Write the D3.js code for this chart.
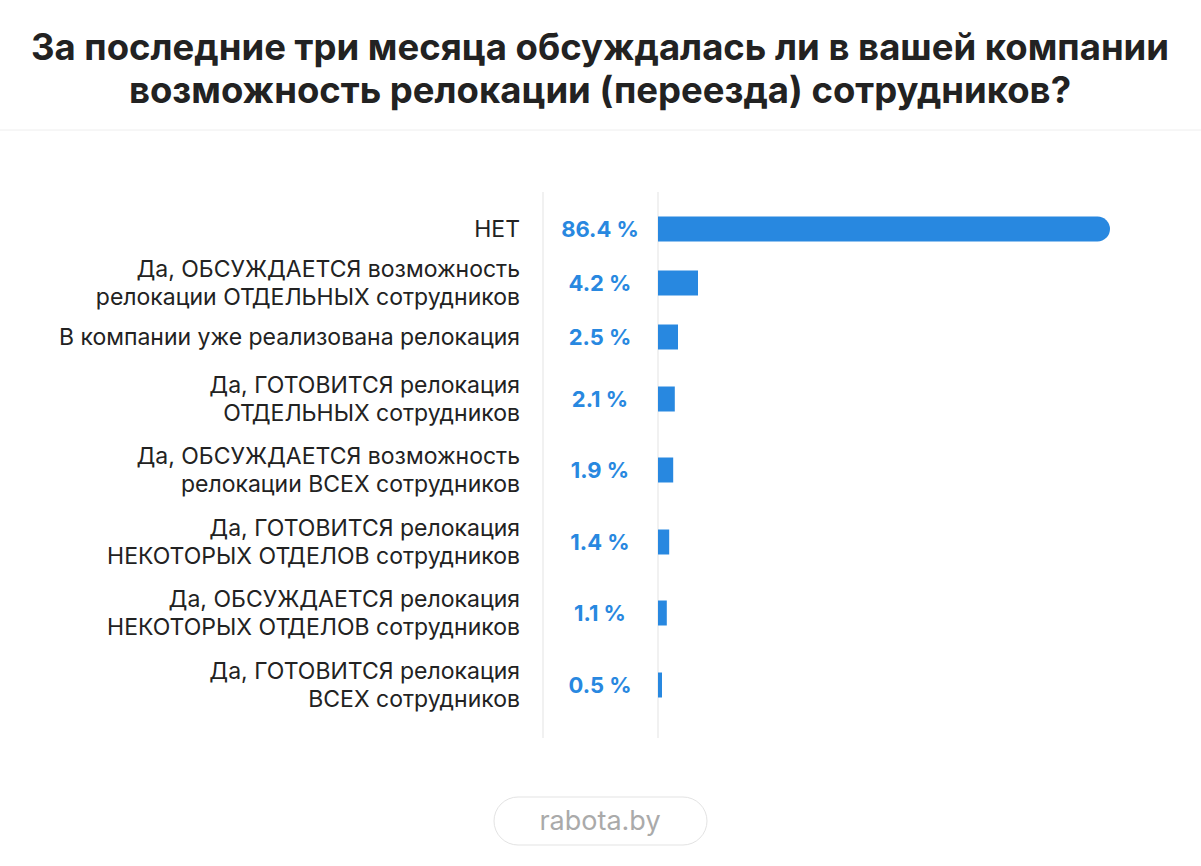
<!DOCTYPE html>
<html><head><meta charset="utf-8">
<script src="https://cdn.jsdelivr.net/npm/d3@7"></script>
<style>body{margin:0;background:#fff}svg{display:block}</style>
</head><body>
<svg id="chart" width="1201" height="866"></svg>
<script>
const titleLines = ['За последние три месяца обсуждалась ли в вашей компании', 'возможность релокации (переезда) сотрудников?'];
const labels = [
  ['НЕТ'],
  ['Да, ОБСУЖДАЕТСЯ возможность', 'релокации ОТДЕЛЬНЫХ сотрудников'],
  ['В компании уже реализована релокация'],
  ['Да, ГОТОВИТСЯ релокация', 'ОТДЕЛЬНЫХ сотрудников'],
  ['Да, ОБСУЖДАЕТСЯ возможность', 'релокации ВСЕХ сотрудников'],
  ['Да, ГОТОВИТСЯ релокация', 'НЕКОТОРЫХ ОТДЕЛОВ сотрудников'],
  ['Да, ОБСУЖДАЕТСЯ релокация', 'НЕКОТОРЫХ ОТДЕЛОВ сотрудников'],
  ['Да, ГОТОВИТСЯ релокация', 'ВСЕХ сотрудников']
];
const values = [86.4, 4.2, 2.5, 2.1, 1.9, 1.4, 1.1, 0.5];
const rowCenters = [229, 283, 337, 399, 470, 542, 613, 685];

const BLUE = '#2888e0', FONT = 'Inter, "Open Sans", sans-serif';
const svg = d3.select('#chart');

const title = svg.append('text').attr('x', 600).attr('text-anchor', 'middle')
  .attr('font-family', FONT).attr('font-weight', 700).attr('font-size', 36.5).attr('fill', '#222');
titleLines.forEach((t, i) => title.append('tspan').attr('x', 600).attr('y', 60 + i * 43).text(t));

svg.append('line').attr('x1', 0).attr('x2', 1201).attr('y1', 130).attr('y2', 130).attr('stroke', '#eee');

const x0 = 658;
// bars in the source are not drawn to one linear scale; piecewise mapping
const x = d3.scaleLinear().domain([0, 2.5, 4.2, 86.4]).range([x0, x0 + 20, x0 + 40, 1110]);

[543, 658].forEach(v => svg.append('line').attr('x1', v).attr('x2', v)
  .attr('y1', 192).attr('y2', 738).attr('stroke', '#e3e3e3'));

const rows = svg.selectAll('g.row').data(values).join('g').attr('class', 'row')
  .attr('transform', (d, i) => `translate(0,${rowCenters[i]})`);

rows.append('path').attr('fill', BLUE).attr('d', d => {
  const w = x(d) - x0, h = 25, r = d > 50 ? 12.5 : 0;
  return `M${x0},${-h/2}h${w - r}a${r},${r} 0 0 1 ${r},${r}v${h - 2*r}a${r},${r} 0 0 1 ${-r},${r}h${-(w - r)}z`;
});

rows.append('text').attr('x', 600).attr('y', 8).attr('text-anchor', 'middle')
  .attr('font-family', FONT).attr('font-weight', 700).attr('font-size', 22).attr('fill', BLUE)
  .text(d => `${d} %`);

rows.each(function(d, i) {
  const t = d3.select(this).append('text').attr('text-anchor', 'end')
    .attr('font-family', FONT).attr('font-size', 23).attr('fill', '#222');
  const ls = labels[i], off = (ls.length - 1) * 14;
  ls.forEach((l, j) => t.append('tspan').attr('x', 520).attr('y', 8 - off + j * 28).text(l));
});

svg.append('rect').attr('x', 494).attr('y', 797).attr('width', 213).attr('height', 48).attr('rx', 24)
  .attr('fill', '#fff').attr('stroke', '#e3e3e3');
svg.append('text').attr('x', 600).attr('y', 830).attr('text-anchor', 'middle')
  .attr('font-family', FONT).attr('font-size', 27).attr('fill', '#aaa').text('rabota.by');
</script>
</body></html>
